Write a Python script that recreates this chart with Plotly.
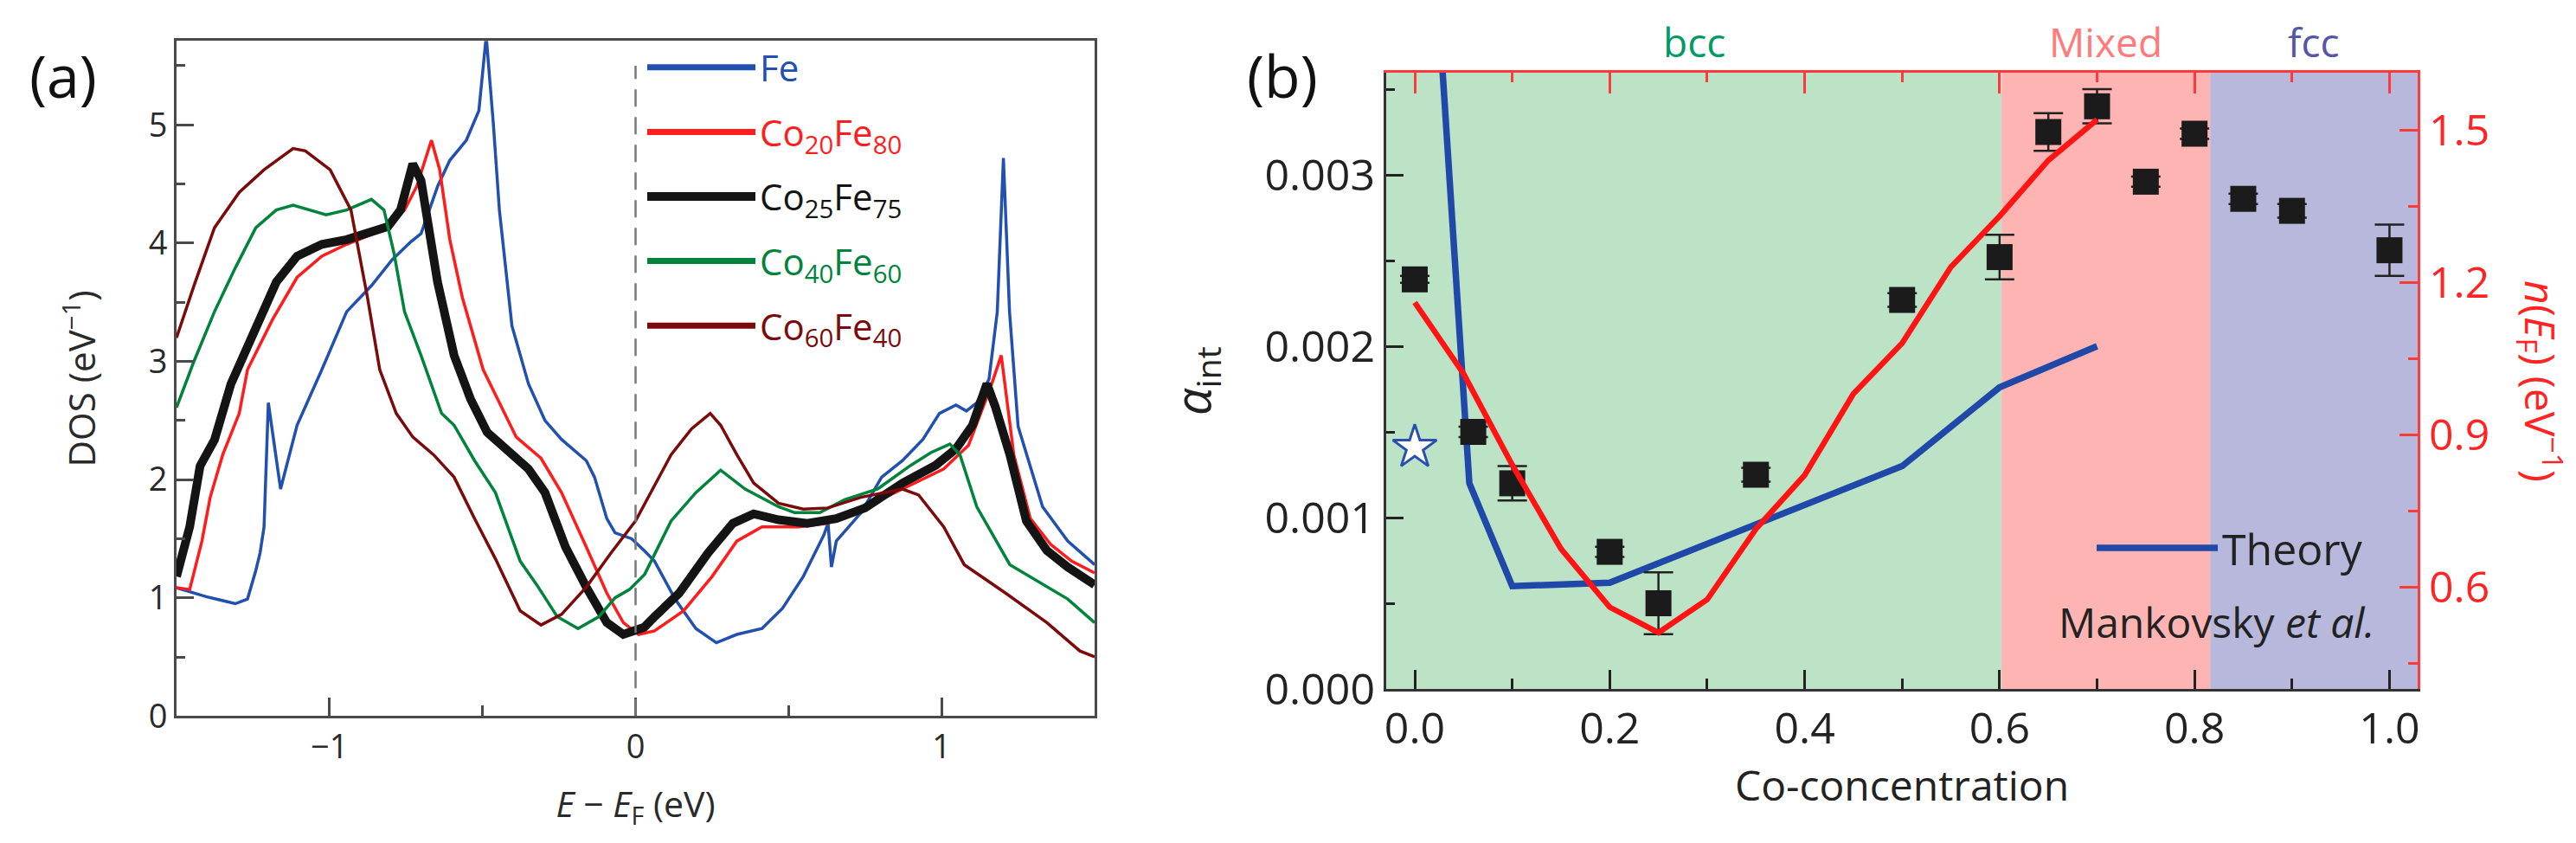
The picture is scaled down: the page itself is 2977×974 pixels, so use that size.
import plotly.graph_objects as go

FONT = "Open Sans"

# ---------------- panel (a): DOS curves ----------------
fe_x = [-1.5, -1.403, -1.308, -1.268, -1.241, -1.227, -1.214, -1.20, -1.16, -1.106, -1.025, -0.944,
        -0.863, -0.795, -0.735, -0.701, -0.647, -0.607, -0.553, -0.512, -0.488, -0.465, -0.445, -0.404,
        -0.35, -0.296, -0.242, -0.161, -0.134, -0.094, -0.067, -0.013, 0.028, 0.062, 0.129, 0.197,
        0.264, 0.331, 0.413, 0.48, 0.548, 0.615, 0.629, 0.64, 0.656, 0.737, 0.804, 0.872, 0.939,
        0.993, 1.047, 1.081, 1.115, 1.155, 1.182, 1.202, 1.222, 1.25, 1.33, 1.412, 1.5]
fe_y = [1.085, 1.01, 0.95, 0.99, 1.23, 1.38, 1.60, 2.65, 1.92, 2.46, 2.93, 3.42,
        3.64, 3.86, 4.01, 4.08, 4.48, 4.70, 4.87, 5.12, 5.75, 5.02, 4.28, 3.30,
        2.81, 2.50, 2.34, 2.16, 2.02, 1.67, 1.55, 1.50, 1.40, 1.31, 0.99, 0.74,
        0.62, 0.69, 0.74, 0.91, 1.18, 1.53, 1.63, 1.26, 1.48, 1.72, 2.02, 2.16, 2.34,
        2.56, 2.63, 2.58, 2.65, 2.85, 3.42, 4.72, 3.42, 2.45, 1.77, 1.48, 1.28]

co20_x = [-1.5, -1.457, -1.417, -1.39, -1.349, -1.295, -1.268, -1.187, -1.106, -1.025, -0.944, -0.836,
          -0.755, -0.715, -0.667, -0.64, -0.607, -0.566, -0.498, -0.39, -0.309, -0.242, -0.161, -0.094,
          -0.04, 0.01, 0.062, 0.157, 0.25, 0.331, 0.413, 0.534, 0.628, 0.736, 0.872, 1.007, 1.088,
          1.128, 1.16, 1.195, 1.236, 1.29, 1.357, 1.425, 1.5]
co20_y = [1.085, 1.07, 1.48, 1.85, 2.21, 2.56, 2.93, 3.35, 3.71, 3.89, 3.99, 4.10,
          4.28, 4.48, 4.87, 4.62, 4.03, 3.54, 2.93, 2.36, 2.18, 1.89, 1.43, 1.04,
          0.79, 0.69, 0.72, 0.89, 1.18, 1.48, 1.60, 1.60, 1.63, 1.75, 1.92, 2.09, 2.29,
          2.56, 2.78, 3.05, 2.21, 1.67, 1.45, 1.31, 1.21]

co25_x = [-1.5, -1.457, -1.423, -1.376, -1.322, -1.241, -1.174, -1.106, -1.025, -0.944, -0.863, -0.809,
          -0.768, -0.728, -0.701, -0.674, -0.647, -0.593, -0.539, -0.485, -0.42, -0.35, -0.296, -0.229,
          -0.161, -0.094, -0.04, 0.028, 0.062, 0.143, 0.237, 0.318, 0.386, 0.467, 0.561, 0.656,
          0.75, 0.872, 0.98, 1.047, 1.101, 1.148, 1.175, 1.223, 1.277, 1.344, 1.412, 1.5]
co25_y = [1.18, 1.60, 2.115, 2.335, 2.81, 3.30, 3.67, 3.89, 3.99, 4.03, 4.10, 4.14,
          4.28, 4.67, 4.53, 4.08, 3.67, 3.05, 2.68, 2.40, 2.25, 2.09, 1.89, 1.43,
          1.09, 0.79, 0.69, 0.75, 0.84, 1.04, 1.38, 1.63, 1.71, 1.66, 1.63, 1.67,
          1.76, 1.97, 2.12, 2.26, 2.46, 2.81, 2.62, 2.21, 1.65, 1.40, 1.26, 1.11]

co40_x = [-1.5, -1.443, -1.376, -1.308, -1.241, -1.174, -1.119, -1.065, -1.011, -0.944, -0.863, -0.822,
          -0.789, -0.755, -0.701, -0.634, -0.593, -0.526, -0.458, -0.377, -0.323, -0.256, -0.188, -0.12,
          -0.067, -0.02, 0.03, 0.116, 0.197, 0.278, 0.358, 0.467, 0.52, 0.602, 0.683, 0.791, 0.899,
          0.966, 1.027, 1.06, 1.115, 1.223, 1.344, 1.412, 1.5]
co40_y = [2.61, 3.0, 3.42, 3.79, 4.13, 4.28, 4.32, 4.28, 4.24, 4.28, 4.37, 4.28,
          3.91, 3.42, 3.05, 2.56, 2.46, 2.16, 1.89, 1.31, 1.11, 0.84, 0.74, 0.84,
          1.0, 1.07, 1.2, 1.65, 1.89, 2.08, 1.92, 1.77, 1.72, 1.72, 1.83, 1.92, 2.12,
          2.23, 2.30, 2.21, 1.77, 1.28, 1.09, 0.99, 0.79]

co60_x = [-1.5, -1.443, -1.376, -1.295, -1.214, -1.119, -1.079, -0.998, -0.93, -0.876, -0.836, -0.782,
          -0.728, -0.66, -0.593, -0.526, -0.458, -0.377, -0.309, -0.242, -0.161, -0.08, 0.0, 0.116,
          0.183, 0.244, 0.278, 0.331, 0.386, 0.467, 0.548, 0.628, 0.736, 0.872, 0.925, 1.007, 1.074,
          1.209, 1.344, 1.452, 1.5]
co60_y = [3.20, 3.64, 4.13, 4.43, 4.62, 4.80, 4.78, 4.62, 4.28, 3.54, 2.93, 2.56,
          2.36, 2.21, 2.02, 1.67, 1.33, 0.89, 0.77, 0.86, 1.09, 1.38, 1.65, 2.21,
          2.43, 2.56, 2.46, 2.21, 1.97, 1.80, 1.75, 1.76, 1.85, 1.92, 1.87, 1.60, 1.28,
          1.04, 0.79, 0.55, 0.50]

fermi_level = 0.0

# ---------------- panel (b): damping vs Co concentration ----------------
conc = [0.0, 0.06, 0.1, 0.2, 0.25, 0.35, 0.5, 0.6, 0.65, 0.7, 0.75, 0.8, 0.85, 0.9, 1.0]
alpha = [0.00239, 0.0015, 0.0012, 0.0008, 0.0005, 0.00125, 0.00227, 0.00252, 0.00325,
         0.0034, 0.00296, 0.00324, 0.00286, 0.00279, 0.00256]
alpha_err = [0.00002, 0.00003, 0.0001, 0.00003, 0.00018, 0.00004, 0.00004, 0.00013, 0.00011,
             0.0001, 0.00003, 0.00003, 0.00003, 0.00004, 0.00015]

star_x = [0.0]
star_y = [0.00141]

theory_x = [0.0, 0.056, 0.1, 0.2, 0.5, 0.6, 0.7]
theory_y = [0.0061, 0.0012, 0.0006, 0.00062, 0.0013, 0.00176, 0.002]

nef_x = [0.0, 0.05, 0.1, 0.15, 0.2, 0.25, 0.3, 0.35, 0.4, 0.45, 0.5, 0.55, 0.6, 0.65, 0.7]
nef_y = [1.16, 1.02, 0.84, 0.675, 0.56, 0.51, 0.575, 0.714, 0.82, 0.98, 1.08, 1.23, 1.33, 1.44, 1.52]

phase_names = ["bcc", "Mixed", "fcc"]
phase_edges = [-0.0293, 0.602, 0.816, 1.0289]
phase_fill = ["#bde3c6", "#ffb4b4", "#b8b7dc"]
phase_text = ["#009a66", "#ff7b7b", "#5656a8"]

W, H = 2977, 974


def px_x(p):
    return p / W


def px_y(p):
    return 1 - p / H


fig = go.Figure()

dos_series = [
    (fe_x, fe_y, "Fe", "#2150b0", 3.5, 7),
    (co20_x, co20_y, "Co<sub>20</sub>Fe<sub>80</sub>", "#ff1c1c", 3.5, 7),
    (co25_x, co25_y, "Co<sub>25</sub>Fe<sub>75</sub>", "#141414", 10, 12),
    (co40_x, co40_y, "Co<sub>40</sub>Fe<sub>60</sub>", "#00843c", 3.5, 7),
    (co60_x, co60_y, "Co<sub>60</sub>Fe<sub>40</sub>", "#7b0b0b", 3.5, 7),
]
for i, (xs, ys, name, color, lw, key_w) in enumerate(dos_series):
    fig.add_trace(go.Scatter(
        x=xs, y=ys, mode="lines", xaxis="x", yaxis="y",
        line=dict(color=color, width=lw), showlegend=False,
    ))
    # legend key drawn a bit heavier than the curve, as in the figure
    fig.add_trace(go.Scatter(
        x=[None], y=[None], mode="lines", xaxis="x", yaxis="y",
        line=dict(color=color, width=key_w),
        name=f"<span style='color:{color}'>{name}</span>",
        legend="legend", legendgroup=f"g{i}",
    ))

# shaded phase regions in (b)
for k in range(len(phase_names)):
    fig.add_shape(type="rect", xref="x2", yref="y2 domain",
                  x0=phase_edges[k], x1=phase_edges[k + 1], y0=0, y1=1,
                  fillcolor=phase_fill[k], line=dict(width=0), layer="below")
    fig.add_annotation(x=(phase_edges[k] + phase_edges[k + 1]) / 2, xref="x2",
                       y=px_y(40), yref="paper", xanchor="center", yanchor="middle",
                       text=phase_names[k], showarrow=False,
                       font=dict(family=FONT, size=46, color=phase_text[k]))

# Fermi level marker
fig.add_shape(type="line", xref="x", yref="y", x0=fermi_level, x1=fermi_level, y0=0, y1=5.5,
              line=dict(color="#777777", width=2.5, dash="20px,12px"))

fig.add_trace(go.Scatter(
    x=nef_x, y=nef_y, mode="lines", xaxis="x2", yaxis="y3",
    line=dict(color="#ff1414", width=6.5), showlegend=False,
))
fig.add_trace(go.Scatter(
    x=theory_x, y=theory_y, mode="lines", xaxis="x2", yaxis="y2",
    line=dict(color="#1f48a8", width=7.5), name="Theory", legend="legend2",
))
fig.add_trace(go.Scatter(
    x=conc, y=alpha, mode="markers", xaxis="x2", yaxis="y2",
    marker=dict(symbol="square", size=30, color="#1b1b1b"),
    error_y=dict(type="data", array=alpha_err, color="#222222", thickness=2.5, width=17),
    showlegend=False,
))
fig.add_trace(go.Scatter(
    x=star_x, y=star_y, mode="markers", xaxis="x2", yaxis="y2",
    marker=dict(symbol="star", size=38, color="white", line=dict(color="#2a4fae", width=3)),
    showlegend=False,
))
# keeps the red top axis on the page
fig.add_trace(go.Scatter(x=[None], y=[None], xaxis="x3", yaxis="y2", showlegend=False,
                         hoverinfo="skip"))

dark = "#4a4a4a"
red = "#ff3a3a"

fig.update_layout(
    width=W, height=H,
    margin=dict(l=0, r=0, t=0, b=0),
    paper_bgcolor="white", plot_bgcolor="white",
    font=dict(family=FONT, color="#222222"),
    showlegend=True,
    xaxis=dict(
        domain=[px_x(196), px_x(1257)], range=[-1.5, 1.5], anchor="y",
        tickvals=[-1, 0, 1], ticks="inside", ticklen=21, tickwidth=2.5, tickcolor=dark,
        minor=dict(dtick=0.5, tick0=0, ticks="inside", ticklen=12, tickwidth=2.5, tickcolor=dark),
        showline=True, linecolor=dark, linewidth=3, mirror=True, showgrid=False, zeroline=False,
        tickfont=dict(size=38, color="#2a2a2a"),
        title=dict(text="<i>E</i> − <i>E</i><sub>F</sub> (eV)", font=dict(size=41, color="#2a2a2a"),
                   standoff=30),
        automargin=False,
    ),
    yaxis=dict(
        domain=[px_y(819.3), px_y(39.3)], range=[0, 5.71], anchor="x",
        dtick=1, ticks="inside", ticklen=20, tickwidth=2.5, tickcolor=dark,
        minor=dict(dtick=0.5, ticks="inside", ticklen=10, tickwidth=2.5, tickcolor=dark),
        showline=True, linecolor=dark, linewidth=3, mirror=True, showgrid=False, zeroline=False,
        tickfont=dict(size=38, color="#2a2a2a"),
        title=dict(text="DOS (eV<sup>−1</sup>)", font=dict(size=42, color="#2a2a2a"), standoff=48),
        automargin=False,
    ),
    xaxis2=dict(
        domain=[px_x(1594), px_x(2786)], range=[-0.0293, 1.0289], anchor="y2",
        dtick=0.2, tick0=0, tickformat=".1f", ticks="inside", ticklen=22, tickwidth=2.5,
        tickcolor="#222222",
        minor=dict(dtick=0.1, tick0=0, ticks="inside", ticklen=12, tickwidth=2.5, tickcolor="#222222"),
        showline=True, linecolor="#333333", linewidth=3, showgrid=False, zeroline=False,
        tickfont=dict(size=50, color="#222222"),
        title=dict(text="Co-concentration", font=dict(size=48, color="#222222"), standoff=14),
        automargin=False,
    ),
    xaxis3=dict(
        overlaying="x2", side="top", anchor="y2", range=[-0.0293, 1.0289],
        dtick=0.2, tick0=0, ticks="inside", ticklen=24, tickwidth=2.5, tickcolor=red,
        minor=dict(dtick=0.1, tick0=0, ticks="inside", ticklen=11, tickwidth=2.5, tickcolor=red),
        showline=True, linecolor=red, linewidth=3, showticklabels=False, showgrid=False,
        zeroline=False,
    ),
    yaxis2=dict(
        domain=[px_y(788), px_y(76)], range=[0, 0.003596], anchor="x2",
        dtick=0.001, tickformat=".3f", ticks="inside", ticklen=20, tickwidth=2.5,
        tickcolor="#222222",
        minor=dict(dtick=0.0005, ticks="inside", ticklen=10, tickwidth=2.5, tickcolor="#222222"),
        showline=True, linecolor="#333333", linewidth=3, showgrid=False, zeroline=False,
        tickfont=dict(size=50, color="#222222"),
        automargin=False,
    ),
    yaxis3=dict(
        overlaying="y2", side="right", anchor="x2", range=[0.399, 1.6125],
        dtick=0.3, tick0=0, tickformat=".1f", ticks="inside", ticklen=21, tickwidth=2.5,
        tickcolor=red,
        minor=dict(dtick=0.15, tick0=0, ticks="inside", ticklen=11, tickwidth=2.5, tickcolor=red),
        showline=True, linecolor=red, linewidth=3, showgrid=False, zeroline=False,
        tickfont=dict(size=50, color="#ff2424"),
        automargin=False,
    ),
    legend=dict(
        x=px_x(735), y=px_y(36), xanchor="left", yanchor="top",
        font=dict(family=FONT, size=42), itemwidth=125, bgcolor="rgba(0,0,0,0)",
        traceorder="grouped", tracegroupgap=17, itemclick=False,
    ),
    legend2=dict(
        x=px_x(2410), y=px_y(586), xanchor="left", yanchor="top",
        font=dict(family=FONT, size=50, color="#222222"), itemwidth=140,
        bgcolor="rgba(0,0,0,0)",
    ),
)

# left title of (b)
fig.add_annotation(x=px_x(1372), y=px_y(432), xref="paper", yref="paper",
                   xanchor="center", yanchor="middle",
                   text="<i>α</i><sub>int</sub>", textangle=-90,
                   showarrow=False, font=dict(family=FONT, size=56, color="#222222"))
fig.add_annotation(x=px_x(2553), y=px_y(710), xref="paper", yref="paper",
                   xanchor="center", yanchor="middle",
                   text="Mankovsky <i>et al.</i>", showarrow=False,
                   font=dict(family=FONT, size=48, color="#222222"))
fig.add_annotation(x=px_x(2928), y=px_y(432), xref="paper", yref="paper",
                   xanchor="center", yanchor="middle",
                   text="<i>n</i>(<i>E</i><sub>F</sub>) (eV<sup>−1</sup>)", textangle=90,
                   showarrow=False, font=dict(family=FONT, size=48, color="#ff2424"))
fig.add_annotation(x=px_x(65), y=px_y(78), xref="paper", yref="paper", text="(a)",
                   xanchor="center", yanchor="middle",
                   showarrow=False, font=dict(family=FONT, size=68, color="#111111"))
fig.add_annotation(x=px_x(1474), y=px_y(78), xref="paper", yref="paper", text="(b)",
                   xanchor="center", yanchor="middle",
                   showarrow=False, font=dict(family=FONT, size=68, color="#111111"))

fig.write_html("out.html")
